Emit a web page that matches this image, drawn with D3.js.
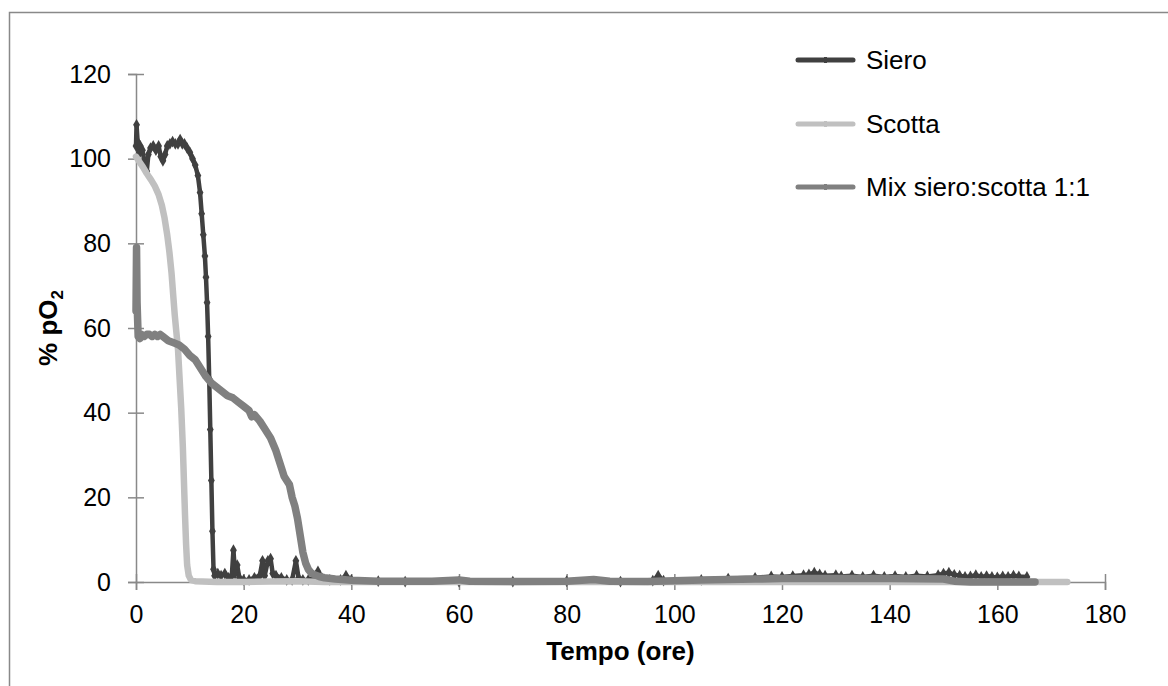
<!DOCTYPE html>
<html>
<head>
<meta charset="utf-8">
<script src="https://cdn.jsdelivr.net/npm/d3@7"></script>
<style>
  html, body { margin: 0; padding: 0; background: #fff; }
  svg { display: block; font-family: "Liberation Sans", Arial, sans-serif; }
</style>
</head>
<body>
<svg id="chart" width="1168" height="686"></svg>
<script>
// tempo (ore), % pO2
const sieroT = [0, 0.1, 0.3, 0.5, 0.8, 1.2, 1.6, 2.0, 2.3, 2.7, 3.2, 3.7, 4.2, 4.6, 5.0, 5.4, 5.8, 6.3, 6.8, 7.3, 7.8, 8.2, 8.6, 9.0, 9.5, 10.0, 10.5, 11.0, 11.5, 11.9, 12.2, 12.5, 12.8, 13.0, 13.2, 13.4, 13.6, 13.8, 14.0, 14.2, 14.4, 14.6, 15.2, 15.8, 16.5, 17.2, 17.8, 18.1, 18.4, 18.8, 19.2, 20, 21, 22, 23, 23.5, 23.9, 24.5, 25, 25.4, 26, 27, 28, 29, 29.7, 30.2, 31, 32, 33, 33.8, 34.5, 36, 38, 39, 40, 45, 50, 60, 70, 80, 90, 96, 97, 98, 105, 110, 115, 118, 120, 122, 124, 125, 126, 127, 128, 130, 131, 133, 135, 137, 139, 141, 143, 145, 147, 149, 150, 151, 152, 153, 154, 155, 156, 157, 158, 159, 160, 161, 162, 163, 164, 165.5];
const sieroV = [103, 108, 104, 101, 103, 102, 99, 97, 101, 102.5, 103, 102, 103, 100.5, 99.5, 101, 103, 103.5, 104, 103.5, 103.5, 104.5, 103.5, 103.5, 102.5, 101.5, 100, 98.5, 96, 92, 87, 82, 77, 72, 66, 58, 48, 36, 24, 12, 3, 1.5, 2, 1.5, 2, 1, 1.5, 7.5, 2, 4, 1, 0.5, 0.5, 1, 1.5, 5, 1.5, 5, 5.5, 2, 1.5, 1, 0.5, 0.5, 5, 1, 0.5, 0.5, 1, 2.5, 1, 0.5, 0.5, 1.5, 0.5, 0.2, 0.1, 0.1, 0.1, 0.2, 0.1, 0.3, 1.5, 0.3, 0.5, 0.8, 1.0, 1.3, 1.2, 1.4, 1.6, 1.8, 2.2, 1.8, 1.5, 1.6, 1.3, 1.5, 1.2, 1.5, 1.2, 1.4, 1.2, 1.5, 1.3, 1.6, 2.0, 2.2, 1.7, 1.5, 1.2, 1.3, 1.6, 1.2, 1.4, 1.2, 1.1, 1.3, 1.2, 1.5, 1.3, 1.2];

const scottaT = [0, 0.5, 1.3, 2.0, 2.8, 3.5, 4.2, 4.8, 5.3, 5.8, 6.2, 6.6, 6.9, 7.2, 7.5, 7.8, 8.1, 8.4, 8.7, 8.9, 9.1, 9.3, 9.5, 9.8, 10.2, 11, 15, 20, 25, 30, 35, 40, 60, 80, 100, 120, 140, 160, 173];
const scottaV = [100.5, 99.5, 98, 96.5, 95, 93.5, 91.5, 89, 86, 82, 78, 73, 68, 63, 59, 55, 48, 41, 32, 24, 16, 9, 4, 1.5, 0.5, 0.2, 0, 0, 0.1, 0.2, 0, 0, 0, 0, 0, 0, 0, 0, 0];

const mixT = [0, 0.1, 0.2, 0.4, 0.7, 1, 1.5, 2, 2.5, 3, 3.5, 4, 4.5, 5, 6, 7, 8, 9, 10, 11, 12, 13, 14, 15, 16, 17, 18, 19, 20, 21, 21.5, 22, 23, 24, 25, 26, 27, 27.5, 28, 28.5, 29, 29.5, 30, 30.5, 31, 31.5, 32, 32.5, 33, 34, 35, 37, 40, 45, 50, 55, 60, 62, 70, 80, 85, 88, 95, 100, 105, 110, 115, 120, 130, 140, 150, 152, 155, 160, 167];
const mixV = [64, 79, 66, 58, 57.5, 58.5, 58, 58.5, 58.5, 58, 58.5, 58, 58.5, 58, 57, 56.5, 56, 55, 53.5, 52.5, 50.5, 48.5, 47, 46, 45, 44, 43.5, 42.5, 41.5, 40.5, 39, 39.5, 38, 36, 34, 31, 27, 25, 24, 23, 20, 18, 15, 11, 7, 4.5, 3, 2.2, 1.8, 1.3, 1, 0.7, 0.4, 0.2, 0.2, 0.2, 0.5, 0.2, 0.1, 0.2, 0.6, 0.2, 0.1, 0.3, 0.5, 0.6, 0.7, 0.8, 0.8, 0.8, 0.7, 0.2, 0, 0, 0];

const seriesNames = ["Siero", "Scotta", "Mix siero:scotta 1:1"];
const xTicks = [0, 20, 40, 60, 80, 100, 120, 140, 160, 180];
const yTicks = [0, 20, 40, 60, 80, 100, 120];

const series = [
  { name: seriesNames[0], t: sieroT, v: sieroV, color: "#404040", width: 4.5, markers: true },
  { name: seriesNames[1], t: scottaT, v: scottaV, color: "#c0c0c0", width: 6.5, markers: false },
  { name: seriesNames[2], t: mixT, v: mixV, color: "#808080", width: 7.5, markers: false }
];

const svg = d3.select("#chart");
const axisColor = "#898989";

// outer chart frame (runs off the right/bottom edge in the picture)
svg.append("rect")
  .attr("x", 9.5).attr("y", 12.5)
  .attr("width", 1200).attr("height", 700)
  .attr("fill", "none")
  .attr("stroke", axisColor)
  .attr("stroke-width", 1.5);

const x = d3.scaleLinear().domain([0, 180]).range([136, 1105]);
const y = d3.scaleLinear().domain([0, 120]).range([582, 74]);

const xAxis = svg.append("g")
  .attr("transform", `translate(0,${y(0)})`)
  .call(d3.axisBottom(x).tickValues(xTicks).tickSizeOuter(0).tickSize(8).tickPadding(15));
xAxis.selectAll(".tick line").attr("y1", -8);

const yAxis = svg.append("g")
  .attr("transform", `translate(${x(0)},0)`)
  .call(d3.axisLeft(y).tickValues(yTicks).tickSizeOuter(0).tickSize(8).tickPadding(17));
yAxis.selectAll(".tick line").attr("x1", 8);

[xAxis, yAxis].forEach(g => {
  g.select(".domain").attr("stroke", axisColor).attr("stroke-width", 1.5);
  g.selectAll(".tick line").attr("stroke", axisColor).attr("stroke-width", 1.5);
  g.selectAll(".tick text")
    .attr("fill", "#000")
    .style("font-size", "25px")
    .style("font-family", "'Liberation Sans', Arial, sans-serif");
});

const line = d3.line()
  .x(d => x(d[0]))
  .y(d => y(d[1]));

series.forEach(s => {
  const pts = s.t.map((t, i) => [t, s.v[i]]);
  svg.append("path")
    .datum(pts)
    .attr("d", line)
    .attr("fill", "none")
    .attr("stroke", s.color)
    .attr("stroke-width", s.width)
    .attr("stroke-linejoin", "round")
    .attr("stroke-linecap", "round");
  if (s.markers) {
    svg.append("g").selectAll("path")
      .data(pts)
      .join("path")
      .attr("transform", d => `translate(${x(d[0])},${y(d[1])})`)
      .attr("d", d3.symbol(d3.symbolDiamond, 40))
      .attr("fill", s.color);
  }
});

// axis titles
svg.append("text")
  .attr("x", (x(0) + x(180)) / 2)
  .attr("y", 660)
  .attr("text-anchor", "middle")
  .style("font-size", "26px")
  .style("font-weight", "bold")
  .text("Tempo (ore)");

const yTitle = svg.append("text")
  .attr("transform", `translate(57,${(y(0) + y(120)) / 2}) rotate(-90)`)
  .attr("text-anchor", "middle")
  .style("font-size", "26px")
  .style("font-weight", "bold");
yTitle.append("tspan").text("% pO");
yTitle.append("tspan").attr("dy", 6).style("font-size", "17px").text("2");

// legend
const legend = svg.append("g");
const legendY = [60, 124, 187];
series.forEach((s, i) => {
  const g = legend.append("g").attr("transform", `translate(798,${legendY[i]})`);
  g.append("line")
    .attr("x1", 0).attr("x2", 55)
    .attr("stroke", s.color)
    .attr("stroke-width", 5)
    .attr("stroke-linecap", "round");
  g.append("rect")
    .attr("x", 26).attr("y", -3).attr("width", 3).attr("height", 6)
    .attr("fill", s.color);
  g.append("text")
    .attr("x", 68).attr("y", 9)
    .style("font-size", "26px")
    .text(s.name);
});
</script>
</body>
</html>
